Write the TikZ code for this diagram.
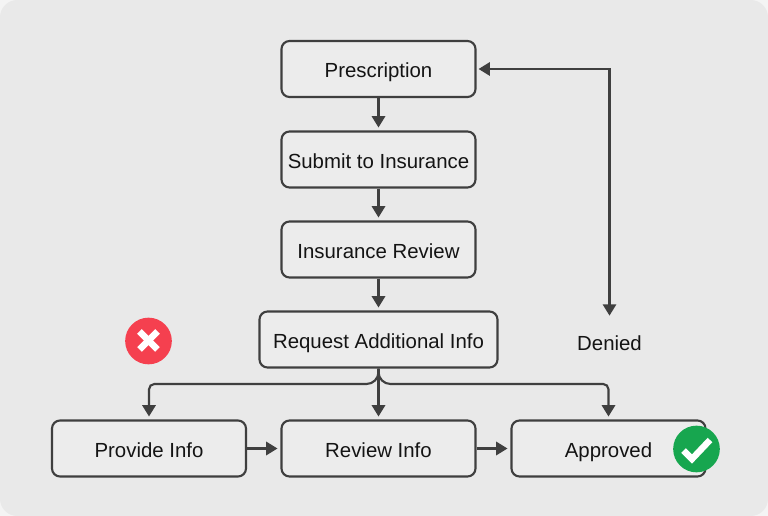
\documentclass[tikz,border=0pt]{standalone}
\usepackage{fontspec}
\setmainfont{Liberation Sans}
\usetikzlibrary{arrows.meta}
\definecolor{bgc}{HTML}{E9E9E9}
\definecolor{outc}{HTML}{F4F4F4}
\definecolor{boxc}{HTML}{ECECEC}
\definecolor{linec}{HTML}{3F3F3F}
\definecolor{txtc}{HTML}{141414}
\definecolor{redc}{HTML}{F5404F}
\definecolor{greenc}{HTML}{17A64F}
\tikzset{
  x=0.75pt,y=-0.75pt,
  stepbox/.style={draw=linec,line width=1.6pt,rounded corners=6pt,fill=boxc,text=txtc,minimum height=42pt,inner sep=0pt,text height=16pt,text depth=2.5pt,font=\fontsize{15.3}{18}\selectfont},
  plainlabel/.style={text=txtc,inner sep=0pt,text height=15.5pt,text depth=2.5pt,font=\fontsize{15.3}{18}\selectfont},
  conn/.style={draw=linec,line width=1.6pt,shorten >=2.2pt,-{Triangle[length=8.5pt,width=10pt]}},
  connb/.style={draw=linec,line width=1.6pt,shorten >=2.2pt,shorten <=1.5pt,{Triangle[length=8.5pt,width=10pt]}-{Triangle[length=8.5pt,width=10pt]}},
  badge/.style={circle,minimum size=35pt,inner sep=0pt}
}
\begin{document}
\begin{tikzpicture}
\useasboundingbox (0,0) rectangle (768,516);
\fill[outc] (0,0) rectangle (768,516);
\fill[bgc,rounded corners=13pt] (0,0) rectangle (768,516);
\node[stepbox,minimum width=145.5pt] (pres) at (378.5,69) {Prescription};
\node[stepbox,minimum width=145.5pt] (sub) at (378.5,159.5) {Submit to Insurance};
\node[stepbox,minimum width=145.5pt] (rev) at (378.5,249.5) {Insurance Review};
\node[stepbox,minimum width=178.5pt] (req) at (378.5,339.5) {Request Additional Info};
\node[stepbox,minimum width=145.5pt] (prov) at (149,448.5) {Provide Info};
\node[stepbox,minimum width=145.5pt] (info) at (378.5,448.5) {Review Info};
\node[stepbox,minimum width=145.5pt] (appr) at (608.5,448.5) {Approved};
\node[plainlabel,minimum height=34pt] (den) at (609.5,341.5) {Denied};
\coordinate (midL) at (260,384);
\coordinate (midR) at (500,384);
\draw[conn] (pres) -- (sub);
\draw[conn] (sub) -- (rev);
\draw[conn] (rev) -- (req);
\draw[conn] (req) -- (info);
\draw[conn] (prov) -- (info);
\draw[conn] (info) -- (appr);
\draw[connb] (pres.east) -| (den.north);
\draw[conn] (req.south) [rounded corners=9pt] |- (midL) [rounded corners=4pt] -| (prov.north);
\draw[conn] (req.south) [rounded corners=9pt] |- (midR) [rounded corners=4pt] -| (appr.north);
\node[badge,fill=redc] (xb) at (148.5,341) {};
\draw[white,line width=5pt] (139.5,331.5) -- (157.5,349.5);
\draw[white,line width=5pt] (157.5,331.5) -- (139.5,349.5);
\node[badge,fill=greenc] (ok) at (696.5,449) {};
\draw[white,line width=4.8pt,line join=miter] (683.5,450.5) -- (692,459) -- (710,440);
\end{tikzpicture}
\end{document}
